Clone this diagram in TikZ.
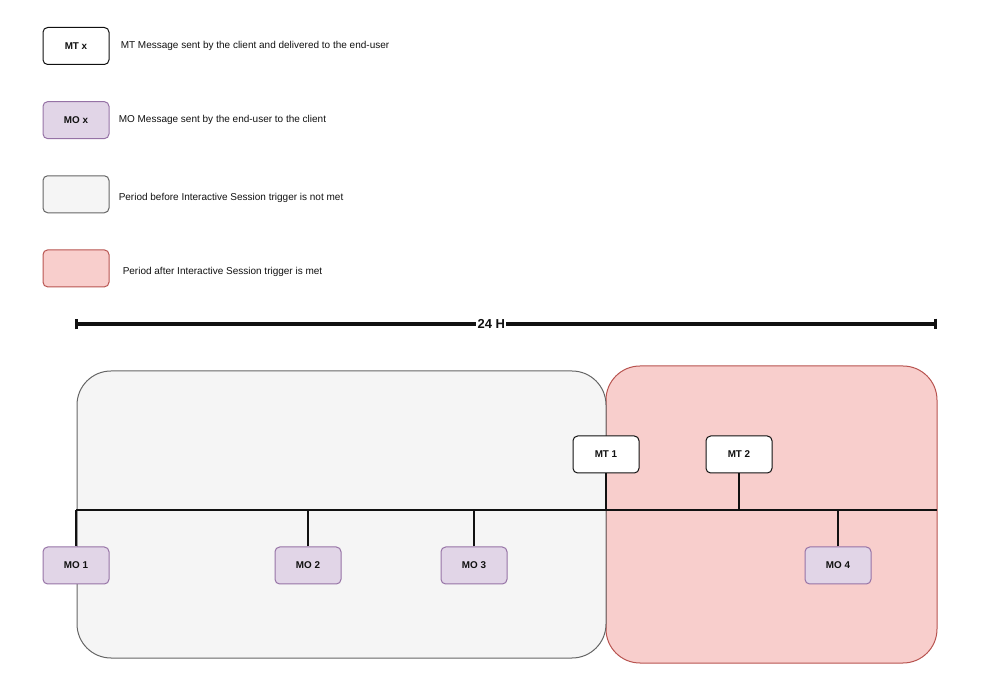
\documentclass[tikz,border=0pt]{standalone}
\usepackage{fontspec}
\setmainfont{Liberation Sans}
\usetikzlibrary{arrows.meta,positioning,calc}
\definecolor{Ink}{HTML}{111111}
\definecolor{GreyFill}{HTML}{F5F5F5}
\definecolor{GreyLine}{HTML}{666666}
\definecolor{RedFill}{HTML}{F8CECC}
\definecolor{RedLine}{HTML}{B85450}
\definecolor{PurpleFill}{HTML}{E1D5E7}
\definecolor{PurpleLine}{HTML}{9673A6}
\tikzset{
  mtbox/.style={draw=Ink,fill=white,rounded corners=3.5pt,minimum width=49.5pt,minimum height=27.75pt,line width=0.75pt,align=center,font=\fontsize{7.4}{8.5}\selectfont\bfseries,text=Ink},
  mobox/.style={mtbox,draw=PurpleLine,fill=PurpleFill},
  beforebox/.style={mtbox,draw=GreyLine,fill=GreyFill},
  afterbox/.style={mtbox,draw=RedLine,fill=RedFill},
  beforezone/.style={draw=GreyLine,fill=GreyFill,rounded corners=25.5pt,line width=0.75pt},
  afterzone/.style={draw=RedLine,fill=RedFill,rounded corners=25.5pt,line width=0.75pt},
  legendtxt/.style={font=\fontsize{7.5}{9}\selectfont,text=Ink,inner sep=0pt},
  link/.style={draw=Ink,line width=1.5pt},
  spanline/.style={{Bar[width=8pt,line width=2pt]}-{Bar[width=8pt,line width=2pt]},draw=Ink,line width=3pt}
}

\begin{document}
\begin{tikzpicture}[x=0.75pt,y=-0.75pt,node distance=27.1pt]
  \useasboundingbox (0,0) rectangle (1001,677);

  % legend
  \node[mtbox] (legmt) at (76,46) {MT x};
  \node[mobox,below=of legmt] (legmo) {MO x};
  \node[beforebox,below=of legmo] (legbefore) {};
  \node[afterbox,below=of legbefore] (legafter) {};
  \node[legendtxt,right=8.25pt of legmt] (txtmt) {MT Message sent by the client and delivered to the end-user};
  \node[legendtxt,right=6.75pt of legmo] (txtmo) {MO Message sent by the end-user to the client};
  \node[legendtxt,right=6.75pt of legbefore,yshift=-3pt] (txtbefore) {Period before Interactive Session trigger is not met};
  \node[legendtxt,right=9.75pt of legafter,yshift=-3pt] (txtafter) {Period after Interactive Session trigger is met};

  % 24 hour span
  \coordinate (spanstart) at (75,324);
  \coordinate (spanend) at (937,324);
  \draw[spanline] (spanstart) -- (spanend)
    node[pos=0.483,fill=white,inner sep=1pt,font=\fontsize{9.75}{11}\selectfont\bfseries,text=Ink] (span) {24 H};

  % periods
  \draw[afterzone] (606,366) rectangle (937,663);
  \draw[beforezone] (77,371) rectangle (606,658);

  % timeline
  \coordinate (tlstart) at (76,510);
  \coordinate (tlend) at (937,510);
  \draw[link] (tlstart) -- (tlend);

  \node[mtbox] (mt1) at (606,454.5) {MT 1};
  \node[mtbox] (mt2) at (739,454.5) {MT 2};
  \node[mobox] (mo1) at (76,565.5) {MO 1};
  \node[mobox] (mo2) at (308,565.5) {MO 2};
  \node[mobox] (mo3) at (474,565.5) {MO 3};
  \node[mobox] (mo4) at (838,565.5) {MO 4};

  \draw[link] (mt1) -- (mt1 |- tlstart);
  \draw[link] (mt2) -- (mt2 |- tlstart);
  \draw[link] (mo1) -- (mo1 |- tlstart);
  \draw[link] (mo2) -- (mo2 |- tlstart);
  \draw[link] (mo3) -- (mo3 |- tlstart);
  \draw[link] (mo4) -- (mo4 |- tlstart);
\end{tikzpicture}
\end{document}
